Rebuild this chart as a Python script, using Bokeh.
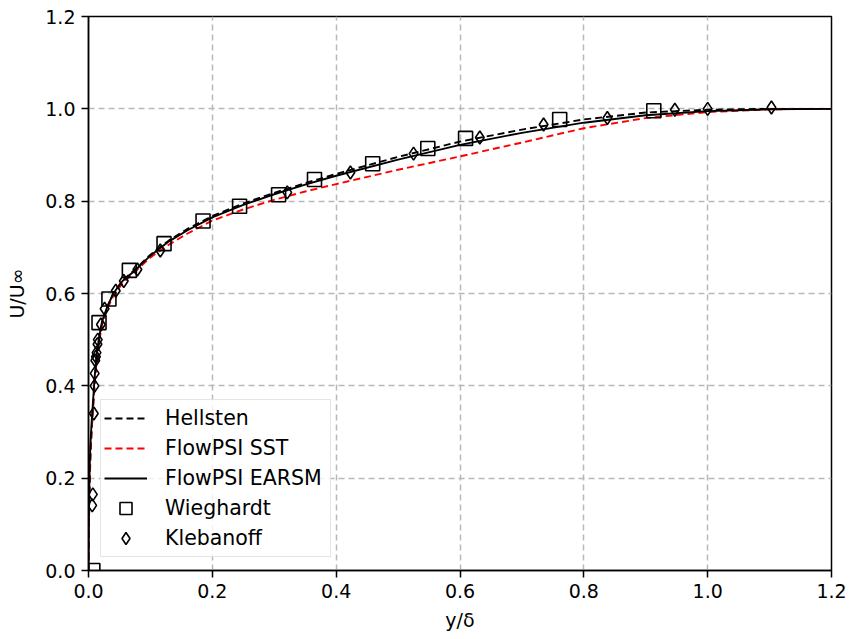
from bokeh.plotting import figure
from bokeh.models import Range1d, FixedTicker, Legend, LegendItem
from bokeh.embed import file_html
from bokeh.resources import INLINE

# ---- data ----
curve_x = [0.0, 0.0005, 0.001, 0.002, 0.003, 0.005, 0.007, 0.01, 0.013, 0.017, 0.022,
           0.03, 0.04, 0.055, 0.075, 0.1, 0.13, 0.16, 0.2, 0.25, 0.3, 0.35, 0.4,
           0.5, 0.6, 0.7, 0.8, 0.9, 1.0, 1.1, 1.2]
hellsten_u = [0.0, 0.07, 0.12, 0.19, 0.24, 0.30, 0.345, 0.405, 0.455, 0.50, 0.537,
              0.57, 0.60, 0.628, 0.652, 0.684, 0.715, 0.74, 0.768, 0.795, 0.818, 0.839, 0.859,
              0.896, 0.929, 0.955, 0.977, 0.992, 0.998, 1.0, 1.0]
sst_u = [0.0, 0.08, 0.14, 0.21, 0.25, 0.305, 0.35, 0.405, 0.452, 0.495, 0.532,
         0.565, 0.595, 0.622, 0.647, 0.678, 0.706, 0.73, 0.758, 0.782, 0.803, 0.821, 0.837,
         0.868, 0.897, 0.927, 0.958, 0.98, 0.993, 0.999, 1.0]
earsm_u = [0.0, 0.10, 0.16, 0.23, 0.27, 0.32, 0.36, 0.42, 0.465, 0.505, 0.54,
           0.57, 0.60, 0.627, 0.65, 0.682, 0.713, 0.737, 0.765, 0.792, 0.815, 0.836, 0.855,
           0.89, 0.922, 0.948, 0.970, 0.986, 0.995, 0.999, 1.0]

wieghardt_x = [0.007, 0.017, 0.033, 0.066, 0.122, 0.185, 0.244, 0.307, 0.365, 0.459,
               0.548, 0.609, 0.761, 0.913]
wieghardt_u = [0.0, 0.537, 0.588, 0.650, 0.708, 0.757, 0.789, 0.814, 0.847, 0.881,
               0.914, 0.936, 0.977, 0.996]

klebanoff_x = [0.006, 0.007, 0.0086, 0.0097, 0.010, 0.011, 0.012, 0.013, 0.0145, 0.015,
               0.020, 0.026, 0.044, 0.057, 0.079, 0.116, 0.321, 0.423, 0.525, 0.632,
               0.735, 0.838, 0.947, 1.0, 1.103]
klebanoff_u = [0.141, 0.165, 0.34, 0.40, 0.427, 0.455, 0.463, 0.472, 0.49, 0.50,
               0.533, 0.567, 0.606, 0.627, 0.652, 0.693, 0.819, 0.862, 0.903, 0.938,
               0.966, 0.980, 0.998, 1.0, 1.003]

tick_vals = [0.0, 0.2, 0.4, 0.6, 0.8, 1.0, 1.2]
tick_labels = ["0.0", "0.2", "0.4", "0.6", "0.8", "1.0", "1.2"]

FONT = "DejaVu Sans"
FS = "19px"

p = figure(width=853, height=639, output_backend="svg", toolbar_location=None,
           x_range=Range1d(0, 1.2), y_range=Range1d(0, 1.2),
           min_border_left=88, min_border_right=22, min_border_top=16, min_border_bottom=69)
p.background_fill_color = "white"
p.border_fill_color = "white"
p.outline_line_color = "black"
p.outline_line_width = 1.5

for ax, lab in ((p.xaxis, "y/δ"), (p.yaxis, "U/U∞")):
    ax.ticker = FixedTicker(ticks=tick_vals)
    ax.major_label_overrides = {v: t for v, t in zip(tick_vals, tick_labels)}
    ax.axis_label = lab
    ax.axis_label_text_font = FONT
    ax.axis_label_text_font_size = FS
    ax.axis_label_text_font_style = "normal"
    ax.major_label_text_font = FONT
    ax.major_label_text_font_size = FS
    ax.major_label_text_color = "black"
    ax.axis_label_text_color = "black"
    ax.axis_line_color = "black"
    ax.axis_line_width = 1.5
    ax.major_tick_in = 0
    ax.major_tick_out = 7
    ax.major_tick_line_width = 1.5
    ax.major_tick_line_color = "black"
    ax.minor_tick_line_color = None
    ax.major_label_standoff = 6
p.yaxis.axis_label_standoff = 14
p.xaxis.axis_label_standoff = 8

for g in (p.xgrid, p.ygrid):
    g.grid_line_color = "#b8b8b8"
    g.grid_line_width = 1.5
    g.grid_line_dash = "6 4"

r_h = p.line(curve_x, hellsten_u, line_color="black", line_width=1.9, line_dash="7 4")
r_s = p.line(curve_x, sst_u, line_color="red", line_width=1.9, line_dash="7 4")
r_e = p.line(curve_x, earsm_u, line_color="black", line_width=1.9)
r_w = p.scatter(wieghardt_x, wieghardt_u, marker="square", size=14, fill_color=None,
                line_color="black", line_width=1.6)
r_k = p.scatter(klebanoff_x, klebanoff_u, marker="diamond", size=13, fill_color=None,
                line_color="black", line_width=1.6)

legend = Legend(items=[
    LegendItem(label="Hellsten", renderers=[r_h]),
    LegendItem(label="FlowPSI SST", renderers=[r_s]),
    LegendItem(label="FlowPSI EARSM", renderers=[r_e]),
    LegendItem(label="Wieghardt", renderers=[r_w]),
    LegendItem(label="Klebanoff", renderers=[r_k]),
], location=(12, 13))
legend.label_text_font = FONT
legend.label_text_font_size = "20.5px"
legend.label_text_color = "black"
legend.glyph_width = 43
legend.glyph_height = 30
legend.label_height = 22
legend.label_width = 162
legend.spacing = 0
legend.padding = 3
legend.margin = 0
legend.label_standoff = 18
legend.border_line_color = "#cccccc"
legend.border_line_width = 1.2
legend.background_fill_color = "white"
legend.background_fill_alpha = 0.8
p.add_layout(legend, "center")

open("out.html", "w").write(file_html(p, INLINE))
